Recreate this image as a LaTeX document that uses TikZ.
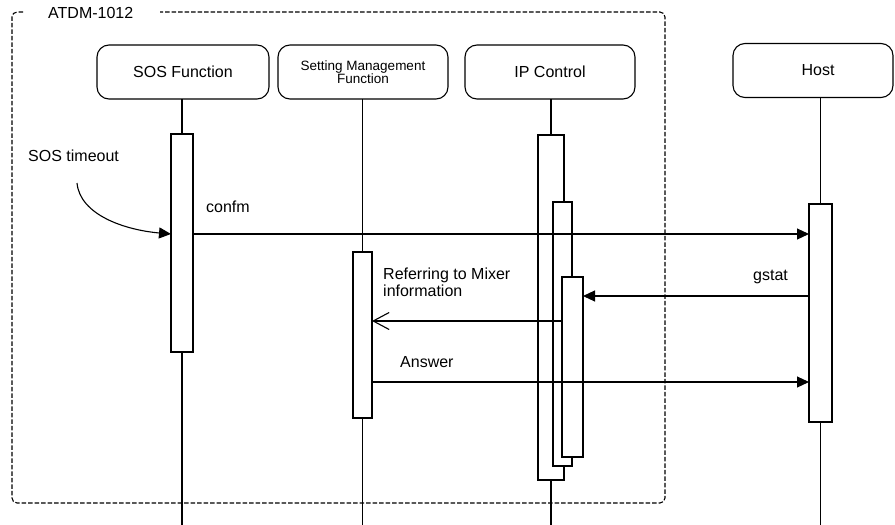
\documentclass[tikz,border=0pt]{standalone}
\usepackage{fontspec}
\setmainfont{Liberation Sans}
\usetikzlibrary{arrows.meta}
\begin{document}
\begin{tikzpicture}[x=1pt,y=-1pt,
  every node/.style={font=\fontsize{16}{17}\selectfont},
  head/.style={draw, line width=1.1pt, rounded corners=12pt, inner sep=0pt, outer sep=0pt, minimum height=54pt, align=center},
  actbar/.style={draw, fill=white, line width=1.1pt, inner sep=0pt, outer sep=0pt},
  life/.style={line width=1.1pt},
  msg/.style={line width=1.1pt, -{Triangle[length=12pt,width=11pt]}},
  openmsg/.style={line width=1.1pt, -{Straight Barb[length=16pt,width=17pt]}},
  frame/.style={line width=1.1pt, dash pattern=on 4.5pt off 2pt, rounded corners=5pt},
  lbl/.style={anchor=west, inner sep=0pt}
]
\useasboundingbox (0,0) rectangle (895,525);
% frame
\coordinate (f1) at (23,12);
\coordinate (f2) at (12,12);
\coordinate (f3) at (12,503);
\coordinate (f4) at (665,503);
\coordinate (f5) at (665,12);
\coordinate (f6) at (160,12);
\draw[frame] (f1) -- (f2) -- (f3) -- (f4) -- (f5) -- (f6);
\node[lbl] (atdm) at (48,13) {ATDM-1012};
% heads
\node[head, minimum width=172pt] (sos) at (183,72) {SOS Function};
\node[head, minimum width=170pt, font=\fontsize{13.5}{13}\selectfont] (setm) at (363,72) {Setting Management\\Function};
\node[head, minimum width=170pt] (ipc) at (550,72) {IP Control};
\node[head, minimum width=160pt] (host) at (813,70.5) {\hspace*{10pt}Host};
\coordinate (bot) at (0,525);
% bars
\node[actbar, minimum width=22pt, minimum height=218pt] (sosbar) at (182,243) {};
\node[actbar, minimum width=19pt, minimum height=166pt] (setbar) at (362.5,335) {};
\node[actbar, minimum width=26pt, minimum height=345pt] (ipA) at (551,307.5) {};
\node[actbar, minimum width=19pt, minimum height=264pt] (ipB) at (562.5,334) {};
\node[actbar, minimum width=21pt, minimum height=180pt] (ipC) at (572.5,367) {};
\node[actbar, minimum width=23pt, minimum height=218pt] (hostbar) at (820.5,313) {};
% lifelines
\draw[life] (sosbar.north) -- (sosbar.north |- sos.south);
\draw[life] (sosbar.south) -- (sosbar.south |- bot);
\draw[life] (setbar.north) -- (setbar.north |- setm.south);
\draw[life] (setbar.south) -- (setbar.south |- bot);
\draw[life] (ipA.north) -- (ipA.north |- ipc.south);
\draw[life] (ipA.south) -- (ipA.south |- bot);
\draw[life] (hostbar.north) -- (hostbar.north |- host.south);
\draw[life] (hostbar.south) -- (hostbar.south |- bot);
% messages
\coordinate (yconfm) at (0,234);
\coordinate (ygstat) at (0,296);
\coordinate (yref) at (0,321);
\coordinate (yans) at (0,382);
\draw[msg] (sosbar.east |- yconfm) -- (hostbar.west |- yconfm);
\draw[msg] (hostbar.west |- ygstat) -- (ipC.east |- ygstat);
\draw[openmsg] (ipC.west |- yref) -- (setbar.east |- yref);
\draw[msg] (setbar.east |- yans) -- (hostbar.west |- yans);
% trigger
\coordinate (trig) at (77,183);
\draw[msg] (trig) .. controls (80,215) and (125,230) .. (sosbar.west |- yconfm);
% labels
\node[lbl] (sostimeout) at (28,156) {SOS timeout};
\node[lbl] (confm) at (206,207) {confm};
\node[lbl, align=left] (refer) at (383,282) {Referring to Mixer\\information};
\node[lbl] (gstat) at (753,277) {gstat};
\node[lbl] (answer) at (400,362) {Answer};
\end{tikzpicture}
\end{document}
